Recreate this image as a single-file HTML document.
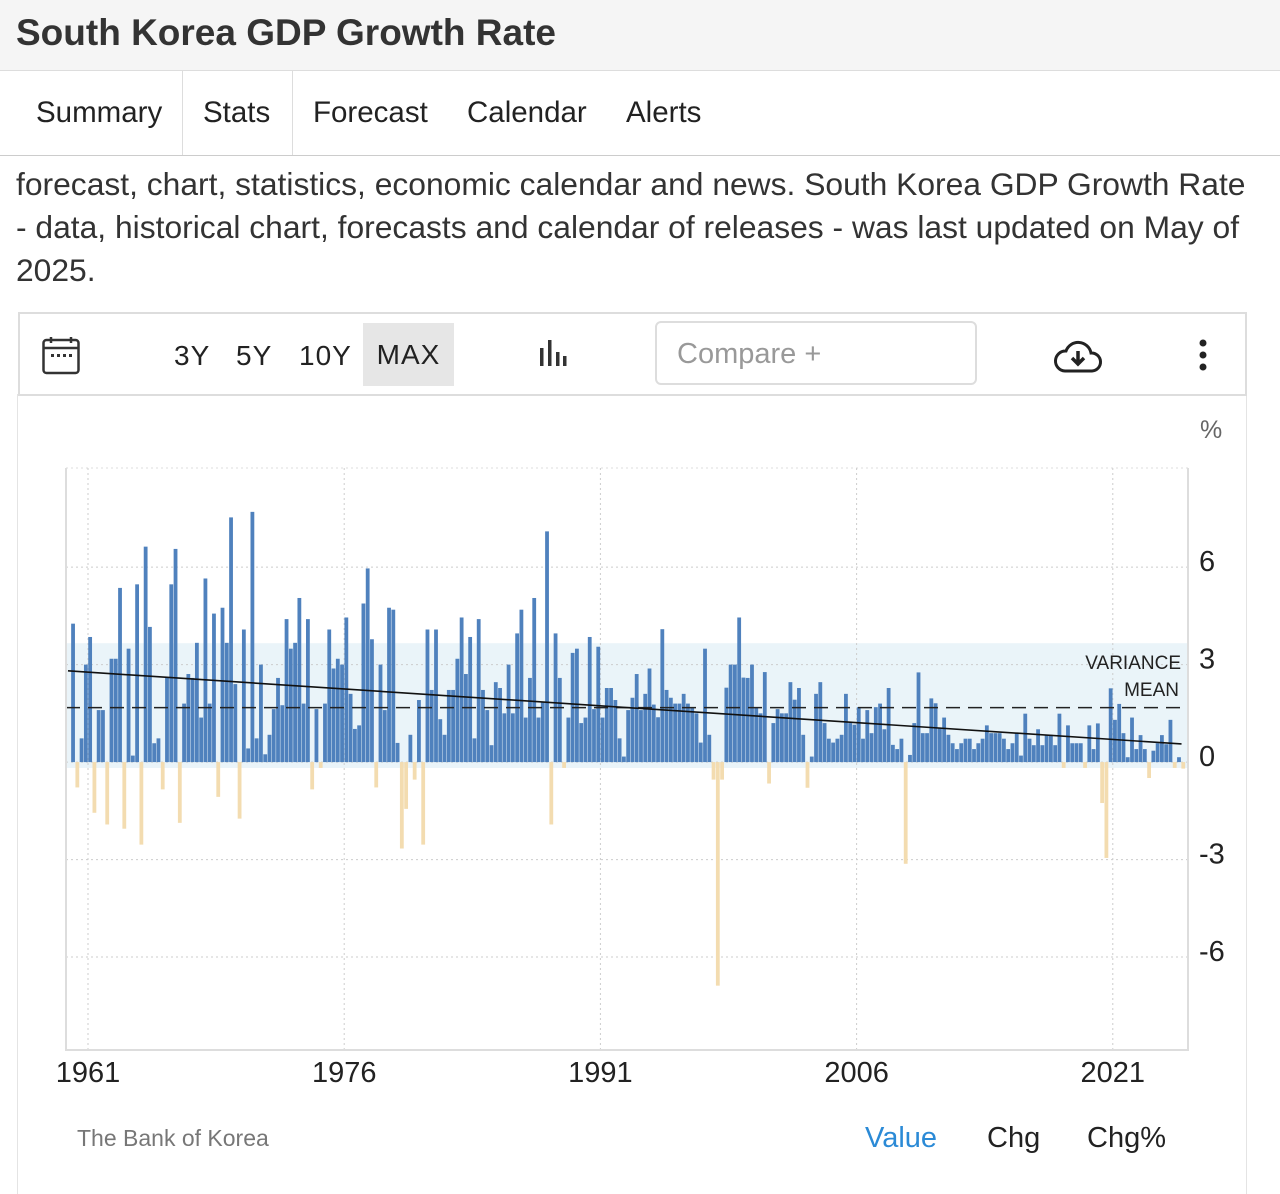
<!DOCTYPE html>
<html><head><meta charset="utf-8">
<style>
body{margin:0;width:1280px;height:1185px;background:#fff;font-family:"Liberation Sans",sans-serif;color:#222;overflow:hidden;position:relative}
.abs{position:absolute}
</style></head><body>
<div class="abs" style="left:0;top:0;width:1280px;height:70px;background:#f5f5f5;border-bottom:1px solid #ddd"></div>
<div class="abs" style="left:16px;top:12px;font-size:37px;font-weight:bold;color:#333">South Korea GDP Growth Rate</div>
<div class="abs" style="left:0;top:71px;width:1280px;height:84px;border-bottom:1px solid #ccc"></div>
<div class="abs" style="left:36px;top:96px;font-size:29.5px">Summary</div>
<div class="abs" style="left:182px;top:71px;width:1px;height:84px;background:#ddd"></div>
<div class="abs" style="left:203px;top:96px;font-size:29.5px">Stats</div>
<div class="abs" style="left:292px;top:71px;width:1px;height:84px;background:#ddd"></div>
<div class="abs" style="left:313px;top:96px;font-size:29.5px">Forecast</div>
<div class="abs" style="left:467px;top:96px;font-size:29.5px">Calendar</div>
<div class="abs" style="left:626px;top:96px;font-size:29.5px">Alerts</div>
<div class="abs" style="left:16px;top:163px;width:1236px;font-size:31.8px;line-height:43px;color:#333">forecast, chart, statistics, economic calendar and news. South Korea GDP Growth Rate - data, historical chart, forecasts and calendar of releases - was last updated on May of 2025.</div>

<div class="abs" style="left:17px;top:394px;width:1228px;height:800px;border-left:1px solid #e4e4e4;border-right:1px solid #e4e4e4"></div>
<div class="abs" style="left:18px;top:312px;width:1225px;height:80px;border:2px solid #ddd"></div>
<svg class="abs" style="left:42px;top:336px" width="38" height="40" viewBox="0 0 38 40"><rect x="1.5" y="4" width="35" height="33" rx="3" fill="none" stroke="#333" stroke-width="2.5"/><line x1="1.5" y1="12" x2="36.5" y2="12" stroke="#333" stroke-width="2.5"/><line x1="9" y1="1" x2="9" y2="7" stroke="#333" stroke-width="2.5"/><line x1="29" y1="1" x2="29" y2="7" stroke="#333" stroke-width="2.5"/><rect x="9" y="18" width="3" height="3" fill="#333"/><rect x="15" y="18" width="3" height="3" fill="#333"/><rect x="21" y="18" width="3" height="3" fill="#333"/><rect x="27" y="18" width="3" height="3" fill="#333"/></svg>
<div class="abs" style="left:174px;top:340px;font-size:28px;letter-spacing:1px">3Y</div>
<div class="abs" style="left:236px;top:340px;font-size:28px;letter-spacing:1px">5Y</div>
<div class="abs" style="left:299px;top:340px;font-size:28px;letter-spacing:1px">10Y</div>
<div class="abs" style="left:363px;top:323px;width:91px;height:63px;background:#e6e6e6;font-size:28px;line-height:63px;text-align:center;letter-spacing:1px">MAX</div>
<svg class="abs" style="left:538px;top:338px" width="30" height="30"><rect x="2" y="10" width="3.5" height="18" fill="#333"/><rect x="10" y="2" width="3.5" height="26" fill="#333"/><rect x="18" y="14" width="3.5" height="14" fill="#333"/><rect x="25" y="18" width="3.5" height="10" fill="#333"/></svg>
<div class="abs" style="left:655px;top:321px;width:322px;height:64px;border:2px solid #ddd;border-radius:6px;font-size:29px;line-height:62px;color:#999;padding-left:20px;box-sizing:border-box">Compare +</div>
<svg class="abs" style="left:1053px;top:338px" width="50" height="36" viewBox="0 0 50 36"><path d="M12 33 H39 A9 9 0 0 0 38 15 A13 13 0 0 0 13 13 A10 10 0 0 0 12 33 Z" fill="none" stroke="#222" stroke-width="3"/><path d="M25 13 V25 M19 20 L25 26 L31 20" fill="none" stroke="#222" stroke-width="3.5"/></svg>
<svg class="abs" style="left:1196px;top:339px" width="14" height="32"><circle cx="7" cy="4" r="3.5" fill="#222"/><circle cx="7" cy="16" r="3.5" fill="#222"/><circle cx="7" cy="28" r="3.5" fill="#222"/></svg>

<svg class="abs" id="chart" style="left:0;top:0" width="1280" height="1185"></svg>

<div class="abs" style="left:77px;top:1125px;font-size:23px;color:#777">The Bank of Korea</div>
<div class="abs" style="left:865px;top:1122px;font-size:29px;color:#2b8ad6">Value</div>
<div class="abs" style="left:987px;top:1122px;font-size:29px;color:#222">Chg</div>
<div class="abs" style="left:1087px;top:1122px;font-size:29px;color:#222">Chg%</div>

<script>
const values = [4.26,-0.78,0.73,3.0,3.85,-1.56,1.6,1.6,-1.92,3.18,3.18,5.36,-2.05,3.49,0.2,5.47,-2.54,6.63,4.16,0.58,0.73,-0.84,2.59,5.47,6.56,-1.87,1.8,2.71,2.59,3.67,1.37,5.65,1.8,4.57,-1.07,4.75,3.67,7.53,2.4,-1.74,4.08,0.42,7.7,0.73,3.0,0.24,0.84,1.63,2.59,1.75,4.4,3.49,3.67,5.05,1.8,4.4,-0.84,1.63,-0.18,1.8,4.08,2.88,3.18,3.0,4.45,
2.1,1.02,1.13,4.88,5.96,3.78,-0.78,3.0,1.6,4.75,4.69,0.59,-2.66,-1.44,0.84,-0.54,1.91,-2.54,4.08,2.22,4.08,1.32,0.84,2.22,2.22,3.18,4.45,2.71,3.85,0.73,4.4,2.22,1.6,0.52,2.46,2.28,1.5,3.0,1.5,3.96,4.69,1.37,2.59,5.05,1.37,1.86,7.1,-1.92,3.96,2.59,-0.18,1.37,3.36,3.49,1.2,1.37,3.85,1.63,3.55,1.37,2.28,2.28,1.91,0.73,0.17,
1.6,1.98,2.71,1.6,2.1,2.88,1.77,1.38,4.09,2.22,1.98,1.8,1.8,2.1,1.8,1.69,1.5,0.6,3.49,0.84,-0.54,-6.88,-0.54,2.29,3.0,3.0,4.45,2.6,2.59,3.0,1.69,1.5,2.77,-0.66,1.2,1.63,1.5,1.5,2.46,1.92,2.28,0.84,-0.79,0.17,2.1,2.46,1.2,0.72,0.6,0.72,0.84,2.1,1.2,1.15,1.69,0.72,1.6,0.89,1.69,1.8,1.01,2.28,0.53,0.4,0.72,-3.13,0.22,
1.2,2.76,0.89,0.89,1.96,1.81,1.04,1.37,0.84,0.58,0.4,0.58,0.72,0.72,0.4,0.58,0.72,1.13,0.89,0.89,0.89,0.72,0.4,0.58,0.91,0.2,1.49,0.72,0.52,1.01,0.52,0.84,0.84,0.52,1.49,-0.18,1.13,0.58,0.58,0.58,-0.18,1.13,0.4,1.19,-1.26,-2.95,2.27,1.3,1.79,0.89,0.15,1.37,0.4,0.83,0.4,-0.49,0.35,0.58,0.83,0.55,1.3,-0.18,0.15,-0.2];
const lastPeriod = 2025.125;
const yTicks = [6,3,0,-3,-6];
const xTickYears = [1961,1976,1991,2006,2021];

const svg = document.getElementById('chart');
const NS = 'http://www.w3.org/2000/svg';
const L=66,R=1188,T=468,B=1050;
const yMin=-8.86,yMax=9.05;
const y = v => B - (v - yMin)/(yMax - yMin)*(B-T);
const x = t => 88 + (t - 1961)*17.08;
function mk(tag, attrs){const e=document.createElementNS(NS,tag);for(const k in attrs)e.setAttribute(k,attrs[k]);svg.appendChild(e);return e;}
const n = values.length;
const tOf = i => lastPeriod - (n-1-i)*0.25;
const mean = values.reduce((a,b)=>a+b,0)/n;
const sd = Math.sqrt(values.reduce((a,b)=>a+(b-mean)*(b-mean),0)/n);

let e;
const bandTop = y(mean+sd*1.05);
e = mk('rect',{x:L,y:bandTop,width:R-L,height:y(-0.18)-bandTop,fill:'#eaf4f9'});


yTicks.forEach(v=>{
  e = mk('line',{x1:L,x2:R,y1:y(v),y2:y(v),stroke:'#ccc','stroke-dasharray':'2,3'});
  
  
  e = mk('text',{x:1199,y:y(v)+4,'font-size':29,fill:'#222','font-family':'Liberation Sans'});
  e.textContent = String(v);
  
  
});
e = mk('line',{x1:L,x2:R,y1:T,y2:T,stroke:'#ddd','stroke-dasharray':'2,3'});


xTickYears.forEach(yr=>{
  e = mk('line',{x1:x(yr),x2:x(yr),y1:T,y2:B,stroke:'#ccc','stroke-dasharray':'2,3'});
  
  
  e = mk('text',{x:x(yr),y:1082,'font-size':29,fill:'#222','text-anchor':'middle','font-family':'Liberation Sans'});
  e.textContent = String(yr);
  
  
});
values.forEach((v,i)=>{
  const cx = x(tOf(i));
  const y0 = y(0), yv = y(v);
  e = mk('rect',{x:cx-1.9,y:Math.min(y0,yv),width:3.8,height:Math.max(1,Math.abs(yv-y0)),fill:v>=0?'#4f81bd':'#f3dcb0'});
  
  
});
e = mk('line',{x1:L,x2:R,y1:y(mean),y2:y(mean),stroke:'#222','stroke-width':1.5,'stroke-dasharray':'14,8'});


let st=0,sv=0,stt=0,stv=0;
values.forEach((v,i)=>{const t=tOf(i);st+=t;sv+=v;stt+=t*t;stv+=t*v;});
const slope=(n*stv-st*sv)/(n*stt-st*st), icpt=(sv-slope*st)/n;
const t0=tOf(0)-0.4, t1=tOf(n-1)-0.1;
e = mk('line',{x1:L+2,y1:y(icpt+slope*t0),x2:x(t1),y2:y(icpt+slope*t1),stroke:'#111','stroke-width':1.6});


e = mk('path',{d:`M${L} ${T} V${B} H${R} V${T}`,fill:'none',stroke:'#ddd','stroke-width':2});


e = mk('text',{x:1181,y:669,'font-size':19,fill:'#222','text-anchor':'end','font-family':'Liberation Sans'});
e.textContent='VARIANCE';


e = mk('text',{x:1179,y:696,'font-size':19,fill:'#222','text-anchor':'end','font-family':'Liberation Sans'});
e.textContent='MEAN';


e = mk('text',{x:1200,y:438,'font-size':25,fill:'#666','font-family':'Liberation Sans'});
e.textContent='%';


</script>
</body></html>
